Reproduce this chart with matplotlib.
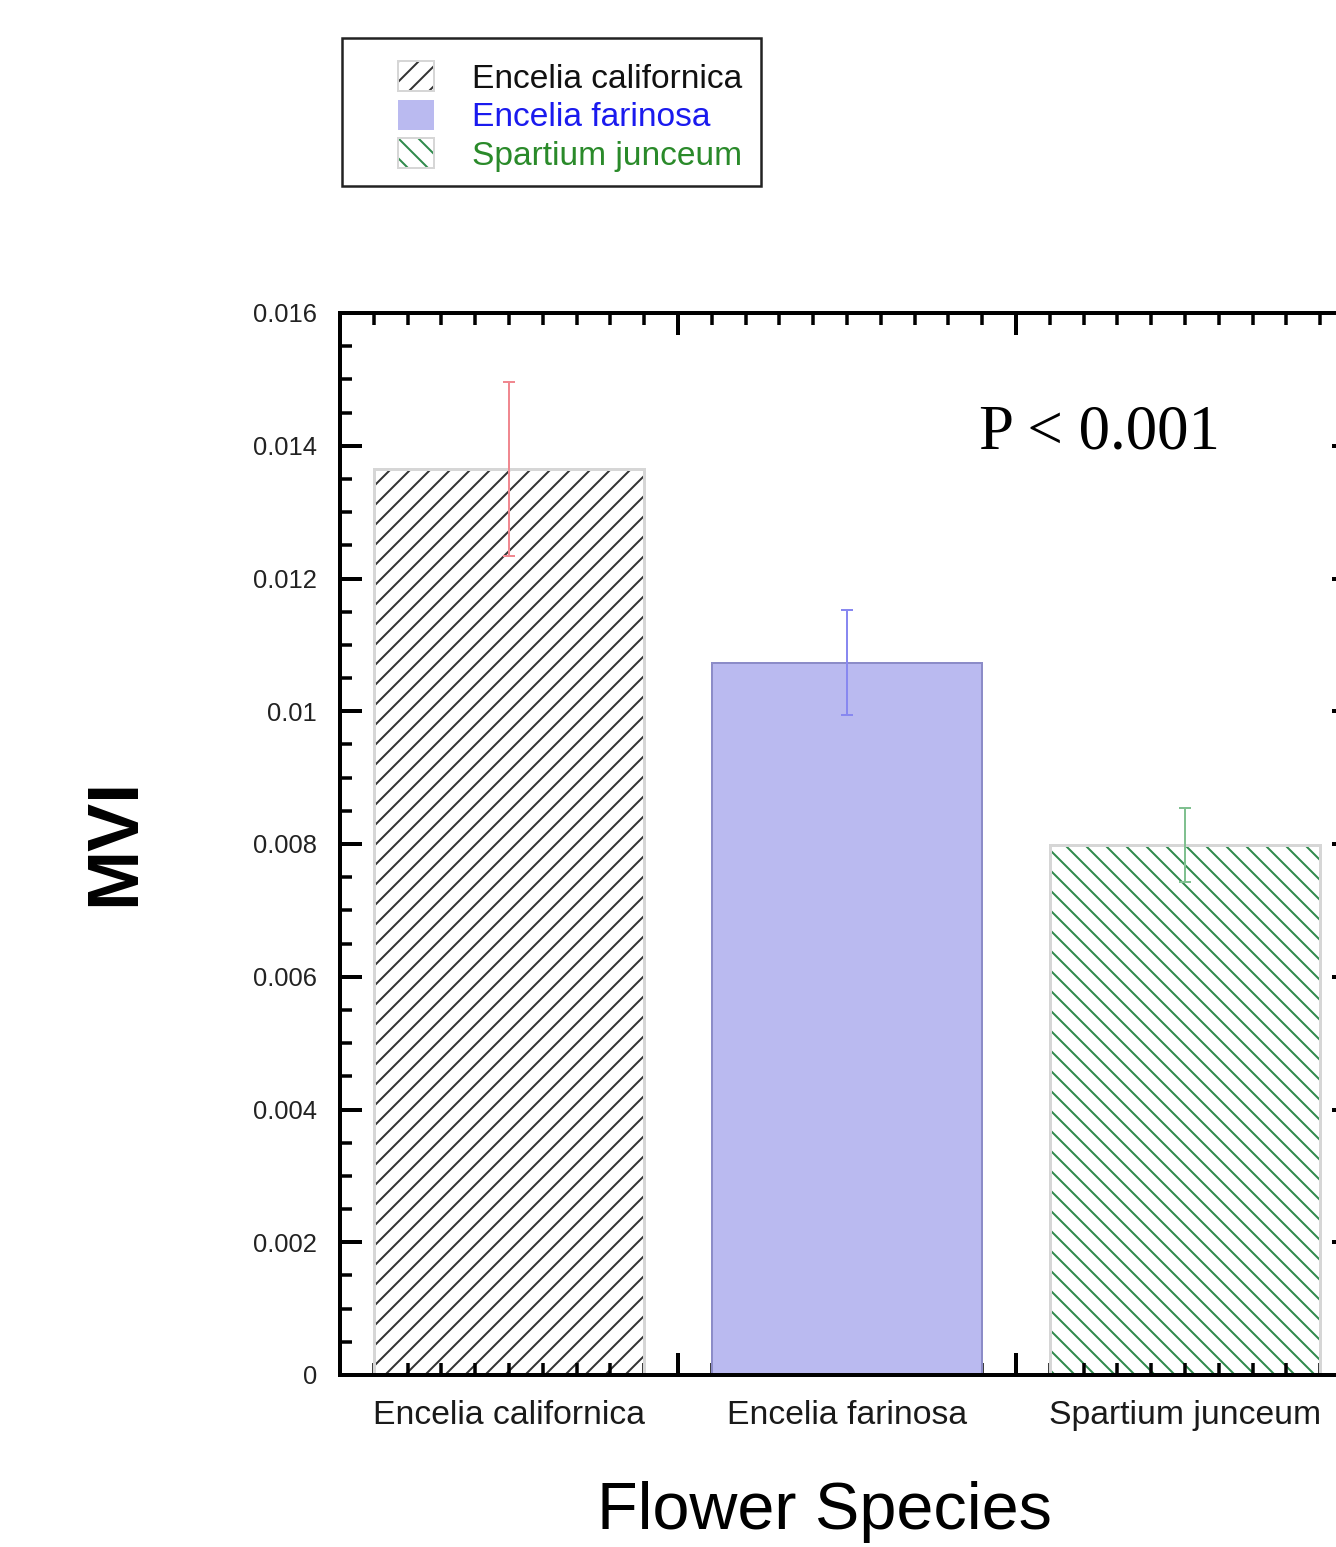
import numpy as np
import matplotlib
matplotlib.use("Agg")
import matplotlib.pyplot as plt
from matplotlib.patches import Patch, Rectangle
from matplotlib.legend_handler import HandlerTuple

# data
species = ["Encelia californica", "Encelia farinosa", "Spartium junceum"]
mvi = [0.01365, 0.01073, 0.00798]
mvi_err = [0.00131, 0.00079, 0.00056]
ytick_vals = [0, 0.002, 0.004, 0.006, 0.008, 0.01, 0.012, 0.014, 0.016]
ytick_labels = ["0", "0.002", "0.004", "0.006", "0.008", "0.01", "0.012", "0.014", "0.016"]

DPI = 120
def pt(px):
    return px * 72.0 / DPI

plt.rcParams['hatch.linewidth'] = pt(2.0)
plt.rcParams['font.family'] = ['Liberation Sans', 'DejaVu Sans']

fig = plt.figure(figsize=(1336 / DPI, 1547 / DPI), dpi=DPI)
# axis runs off the right edge like in the original screenshot
ax = fig.add_axes([340 / 1336, 1 - 1375 / 1547, (1354 - 340) / 1336, (1375 - 313) / 1547])

xpos = np.arange(len(species)) + 0.5
hatch_cols = ["#333333", None, "#2f8a4c"]
hatches = ["//", None, "\\\\"]
faces = ["white", "#babaf0", "white"]
edges = ["#d6d6d6", "#8c8cc8", "#d6d6d6"]
err_cols = ["#f08890", "#8888f0", "#80c090"]

for i in range(len(species)):
    if hatches[i]:
        ax.bar(xpos[i], mvi[i], width=0.8, color=faces[i], edgecolor=hatch_cols[i],
               hatch=hatches[i], linewidth=0, zorder=1)
        ax.bar(xpos[i], mvi[i], width=0.8, fill=False, edgecolor=edges[i],
               linewidth=pt(3), zorder=2)
    else:
        ax.bar(xpos[i], mvi[i], width=0.8, color=faces[i], edgecolor=edges[i],
               linewidth=pt(2), zorder=2)
    ax.errorbar(xpos[i], mvi[i], yerr=mvi_err[i], fmt='none', ecolor=err_cols[i],
                elinewidth=pt(2), capsize=pt(6), capthick=pt(2), zorder=3)

ax.set_xlim(0, 3)
ax.set_ylim(0, 0.016)
ax.set_xticks([0, 1, 2, 3])
ax.set_xticklabels([])
ax.set_xticks(np.arange(0, 3.001, 0.1), minor=True)
ax.set_yticks(ytick_vals)
ax.set_yticklabels(ytick_labels, fontsize=pt(25.5), color="#222222")
ax.set_yticks(np.arange(0, 0.01601, 0.0005), minor=True)

ax.tick_params(which='both', direction='in', top=True, right=True)
ax.tick_params(which='major', length=pt(22), width=pt(4), pad=pt(23))
ax.tick_params(which='minor', length=pt(12), width=pt(3.5))
for s in ax.spines.values():
    s.set_linewidth(pt(4))

for i, name in enumerate(species):
    ax.text(xpos[i], -0.00061, name, ha='center', va='center', fontsize=pt(33.7),
            color="#1a1a1a")

ax.text(1.89, 0.01418, "P < 0.001", fontsize=pt(63), va='center', ha='left',
        family=['Liberation Serif', 'DejaVu Serif'])

fig.text(115 / 1336, 1 - 842 / 1547, "MVI", rotation=90, ha='center', va='center',
         fontsize=pt(72), fontweight='bold')
fig.text(824 / 1336, 1 - 1512 / 1547, "Flower Species", ha='center', va='center',
         fontsize=pt(66.5))

# legend
h_ec = (Patch(facecolor='white', edgecolor=hatch_cols[0], hatch='//', linewidth=0),
        Patch(fill=False, edgecolor=edges[0], linewidth=pt(2)))
h_ef = Patch(facecolor=faces[1], edgecolor=faces[1], linewidth=0)
h_sj = (Patch(facecolor='white', edgecolor=hatch_cols[2], hatch='\\\\', linewidth=0),
        Patch(fill=False, edgecolor=edges[2], linewidth=pt(2)))
leg = fig.legend([h_ec, h_ef, h_sj], species, loc='upper left',
                 bbox_to_anchor=(375 / 1336, 1 - 38 / 1547), frameon=False,
                 fontsize=pt(33.5), handlelength=1.05, handleheight=1.0,
                 handletextpad=1.15, labelspacing=0.15, borderpad=0.2,
                 handler_map={tuple: HandlerTuple(ndivide=1)},
                 labelcolor=["#111111", "#1a1aee", "#2a8a2a"])
fig.patches.append(Rectangle((342 / 1336, 1 - 186 / 1547), (761 - 342) / 1336,
                             (186 - 38) / 1547, transform=fig.transFigure,
                             fill=False, edgecolor='#222222', linewidth=pt(2.5)))

fig.savefig("out.png", dpi=DPI)
